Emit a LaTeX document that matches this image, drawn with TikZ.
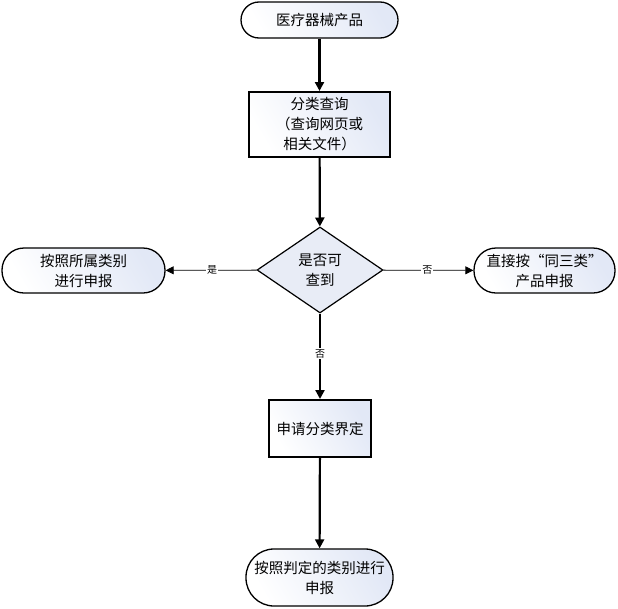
\documentclass[tikz,border=0pt]{standalone}
\usepackage{fontspec}
\newfontfamily\cjk{Noto Sans CJK SC}
\usetikzlibrary{shapes.geometric,arrows.meta}
\definecolor{lightblue}{RGB}{226,232,246}
\definecolor{diafill}{RGB}{232,236,246}
\begin{document}
\begin{tikzpicture}[x=1pt,y=-1pt,
  font=\cjk\fontsize{14.5}{20}\selectfont,
  shade/.style={left color=lightblue, right color=white, shading angle=300},
  term/.style={draw, line width=1.3pt, rounded corners=18pt, shade, align=center, inner sep=0pt},
  procbox/.style={draw, line width=2pt, shade, align=center, inner sep=0pt},
  decide/.style={draw, line width=1.2pt, diamond, aspect=1.46, fill=diafill, align=center, inner sep=0pt},
  thick arrow/.style={line width=2.2pt, -{Triangle[length=9pt,width=9pt]}},
  thin arrow/.style={line width=0.8pt, -{Triangle[length=8pt,width=8pt]}},
  lbl/.style={fill=white, font=\cjk\fontsize{10}{11}\selectfont, inner sep=1pt}]
\useasboundingbox (0,0) rectangle (618,608);
\node[term, minimum width=157pt, minimum height=36pt] (start) at (319.5,20) {医疗器械产品};
\node[procbox, minimum width=141pt, minimum height=65pt] (query) at (319.5,124.5) {分类查询\\（查询网页或\\ 相关文件）};
\node[decide, minimum width=126pt, minimum height=86pt] (dec) at (320,270) {是否可\\查到};
\node[term, rounded corners=22pt, minimum width=163pt, minimum height=45pt] (left) at (83.5,270.5) {按照所属类别\\进行申报};
\node[term, rounded corners=22pt, minimum width=141pt, minimum height=45pt] (right) at (544.5,270.5) {直接按“同三类”\\产品申报};
\node[procbox, minimum width=102pt, minimum height=57pt] (apply) at (320,428.5) {申请分类界定};
\node[term, rounded corners=28pt, minimum width=147pt, minimum height=57pt] (final) at (319.5,577.5) {按照判定的类别进行\\申报};
\draw[thick arrow] (start) -- (query);
\draw[thick arrow] (query) -- (dec);
\draw[thick arrow] (dec) -- node[lbl, pos=0.47] {否} (apply);
\draw[thick arrow] (apply) -- (final);
\draw[thin arrow] (dec) -- node[lbl, pos=0.49] {是} (left);
\draw[thin arrow] (dec) -- node[lbl, pos=0.49] {否} (right);
\end{tikzpicture}
\end{document}
